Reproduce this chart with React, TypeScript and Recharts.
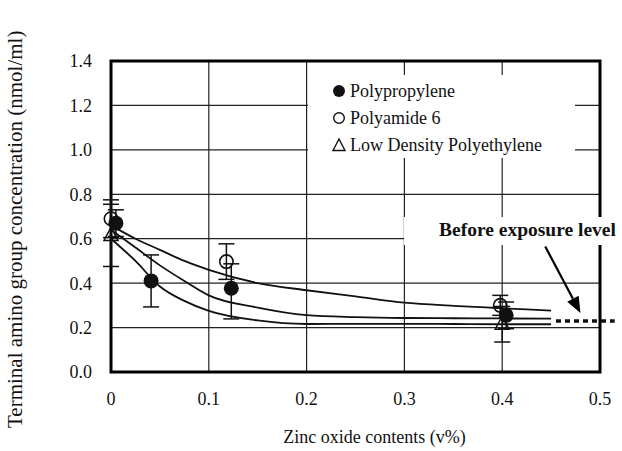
import React from "react";
import {
  ComposedChart,
  Line,
  Scatter,
  ErrorBar,
  XAxis,
  YAxis,
  CartesianGrid,
  ReferenceArea,
  ReferenceLine,
} from "recharts";

// axis ticks
const xTicks = [0, 0.1, 0.2, 0.3, 0.4, 0.5];
const xTickLabels = ["0", "0.1", "0.2", "0.3", "0.4", "0.5"];
const yTicks = [0, 0.2, 0.4, 0.6, 0.8, 1.0, 1.2, 1.4];
const yTickLabels = ["0.0", "0.2", "0.4", "0.6", "0.8", "1.0", "1.2", "1.4"];

// fitted curves
const curveX = [0, 0.025, 0.05, 0.075, 0.1, 0.15, 0.2, 0.25, 0.3, 0.35, 0.4, 0.45];
const fitPA6 = [0.66, 0.6, 0.55, 0.5, 0.46, 0.4, 0.368, 0.34, 0.312, 0.298, 0.287, 0.276];
const fitPP = [0.64, 0.56, 0.48, 0.41, 0.345, 0.29, 0.256, 0.247, 0.243, 0.242, 0.241, 0.24];
const fitLDPE = [0.6, 0.5, 0.385, 0.32, 0.275, 0.232, 0.216, 0.217, 0.217, 0.216, 0.215, 0.215];

// measured points with error bars
const ppX = [0.005, 0.041, 0.123, 0.404];
const ppY = [0.67, 0.41, 0.377, 0.255];
const ppErr: (number | number[])[] = [0.06, 0.117, [0.138, 0.11], 0.06];

const paX = [0, 0.118, 0.398];
const paY = [0.69, 0.497, 0.3];
const paErr = [0.085, 0.08, 0.045];

const ldX = [0, 0.4];
const ldY = [0.615, 0.215];
const ldErr = [0.14, 0.08];

// annotation
const beforeLevel = 0.23;
const beforeX = [0.455, 0.515];
const arrowFrom = { x: 0.444, y: 0.565 };
const arrowTo = { x: 0.48, y: 0.266 };

const curve = (ys: number[]) => curveX.map((x, i) => ({ x, y: ys[i] }));
const points = (xs: number[], ys: number[], errs: any[]) =>
  xs.map((x, i) => ({ x, y: ys[i], err: errs[i] }));

const ppData = points(ppX, ppY, ppErr);
const paData = points(paX, paY, paErr);
const ldData = points(ldX, ldY, ldErr);

const INK = "#111";
const FONT = "'Liberation Serif', 'Times New Roman', serif";

const FilledDot = ({ cx, cy }: any) => <circle cx={cx} cy={cy} r={7.5} fill={INK} />;
const OpenDot = ({ cx, cy }: any) => (
  <circle cx={cx} cy={cy} r={6.7} fill="none" stroke={INK} strokeWidth={1.6} />
);
const TriDot = ({ cx, cy }: any) => (
  <polygon
    points={`${cx},${cy - 8} ${cx - 7},${cy + 5} ${cx + 7},${cy + 5}`}
    fill="none"
    stroke={INK}
    strokeWidth={1.5}
  />
);

const ArrowShape = (props: any) => {
  const { x1, y1, x2, y2 } = props;
  const a = Math.atan2(y2 - y1, x2 - x1);
  const len = 16;
  const half = 6.5;
  const bx = x2 - len * Math.cos(a);
  const by = y2 - len * Math.sin(a);
  const nx = -Math.sin(a) * half;
  const ny = Math.cos(a) * half;
  return (
    <g>
      <path d={`M${x1},${y1}L${bx},${by}`} stroke="#000" strokeWidth={2.2} fill="none" />
      <path d={`M${x2},${y2}L${bx + nx},${by + ny}L${bx - nx},${by - ny}Z`} fill="#000" />
    </g>
  );
};

const YLabel = ({ viewBox }: any) => {
  const x = viewBox.x + 22;
  const y = viewBox.y + viewBox.height + 56;
  return (
    <text x={x} y={y} transform={`rotate(-90, ${x}, ${y})`} fontSize={21} fill={INK} fontFamily={FONT}>
      Terminal amino group concentration (nmol/ml)
    </text>
  );
};

const XLabel = ({ viewBox }: any) => (
  <text
    x={viewBox.x + viewBox.width / 2 + 19}
    y={viewBox.y + 71}
    textAnchor="middle"
    fontSize={18}
    fill={INK}
    fontFamily={FONT}
  >
    Zinc oxide contents (v%)
  </text>
);

const legendRows = [
  { name: "Polypropylene", icon: <circle cx={8} cy={8} r={6} fill={INK} /> },
  { name: "Polyamide 6", icon: <circle cx={8} cy={8} r={5.3} fill="none" stroke={INK} strokeWidth={1.4} /> },
  {
    name: "Low Density Polyethylene",
    icon: <polygon points="8,2 2,13.5 14,13.5" fill="none" stroke={INK} strokeWidth={1.4} />,
  },
];

export default function App() {
  return (
    <div style={{ position: "absolute", left: 0, top: 0, width: 622, height: 451, background: "#fff" }}>
      <ComposedChart width={622} height={451} margin={{ top: 61, right: 22, left: 0, bottom: 0 }}>
        <CartesianGrid stroke="#222" strokeWidth={1.2} />
        <XAxis
          type="number"
          dataKey="x"
          domain={[0, 0.5]}
          ticks={xTicks}
          tickFormatter={(v: number, i: number) => xTickLabels[i]}
          height={79}
          axisLine={false}
          tickLine={false}
          tickSize={0}
          tickMargin={20}
          tick={{ fontSize: 18, fill: INK, fontFamily: FONT }}
          label={<XLabel />}
        />
        <YAxis
          type="number"
          dataKey="y"
          domain={[0, 1.4]}
          ticks={yTicks}
          tickFormatter={(v: number, i: number) => yTickLabels[i]}
          width={111}
          axisLine={false}
          tickLine={false}
          tickSize={0}
          tickMargin={19}
          tick={{ fontSize: 18, fill: INK, fontFamily: FONT }}
          label={<YLabel />}
        />
        <ReferenceArea x1={0} x2={0.5} y1={0} y2={1.4} fill="none" stroke="#000" strokeWidth={3} />

        <Line data={curve(fitPA6)} dataKey="y" type="monotone" dot={false} stroke={INK} strokeWidth={1.8} isAnimationActive={false} />
        <Line data={curve(fitPP)} dataKey="y" type="monotone" dot={false} stroke={INK} strokeWidth={1.8} isAnimationActive={false} />
        <Line data={curve(fitLDPE)} dataKey="y" type="monotone" dot={false} stroke={INK} strokeWidth={1.8} isAnimationActive={false} />

        <Scatter data={ldData} dataKey="y" shape={TriDot} isAnimationActive={false}>
          <ErrorBar dataKey="err" direction="y" width={8} stroke={INK} strokeWidth={1.5} />
        </Scatter>
        <Scatter data={paData} dataKey="y" shape={OpenDot} isAnimationActive={false}>
          <ErrorBar dataKey="err" direction="y" width={8} stroke={INK} strokeWidth={1.5} />
        </Scatter>
        <Scatter data={ppData} dataKey="y" shape={FilledDot} isAnimationActive={false}>
          <ErrorBar dataKey="err" direction="y" width={8} stroke={INK} strokeWidth={1.5} />
        </Scatter>

        <ReferenceLine
          segment={[{ x: beforeX[0], y: beforeLevel }, { x: beforeX[1], y: beforeLevel }]}
          stroke={INK}
          strokeWidth={3.5}
          strokeDasharray="5 4"
          ifOverflow="visible"
        />
        <ReferenceLine segment={[arrowFrom, arrowTo]} stroke="#000" ifOverflow="visible" shape={ArrowShape} />
      </ComposedChart>

      {/* legend box */}
      <div
        style={{
          position: "absolute",
          left: 308,
          top: 75,
          width: 267,
          height: 83,
          background: "#fff",
          fontFamily: FONT,
          fontSize: 18,
          color: INK,
        }}
      >
        {legendRows.map((r, i) => (
          <div key={r.name} style={{ position: "absolute", left: 23, top: 5 + i * 27, height: 22, display: "flex", alignItems: "center" }}>
            <svg width={16} height={16} style={{ marginRight: 3 }}>
              {r.icon}
            </svg>
            <span style={{ whiteSpace: "nowrap" }}>{r.name}</span>
          </div>
        ))}
      </div>

      {/* annotation label */}
      <div
        style={{
          position: "absolute",
          left: 404,
          top: 217,
          width: 218,
          height: 28,
          background: "#fff",
          fontFamily: FONT,
          fontSize: 19.5,
          fontWeight: "bold",
          color: INK,
          whiteSpace: "nowrap",
        }}
      >
        <span style={{ position: "absolute", left: 35, top: 2 }}>Before exposure level</span>
      </div>
    </div>
  );
}
